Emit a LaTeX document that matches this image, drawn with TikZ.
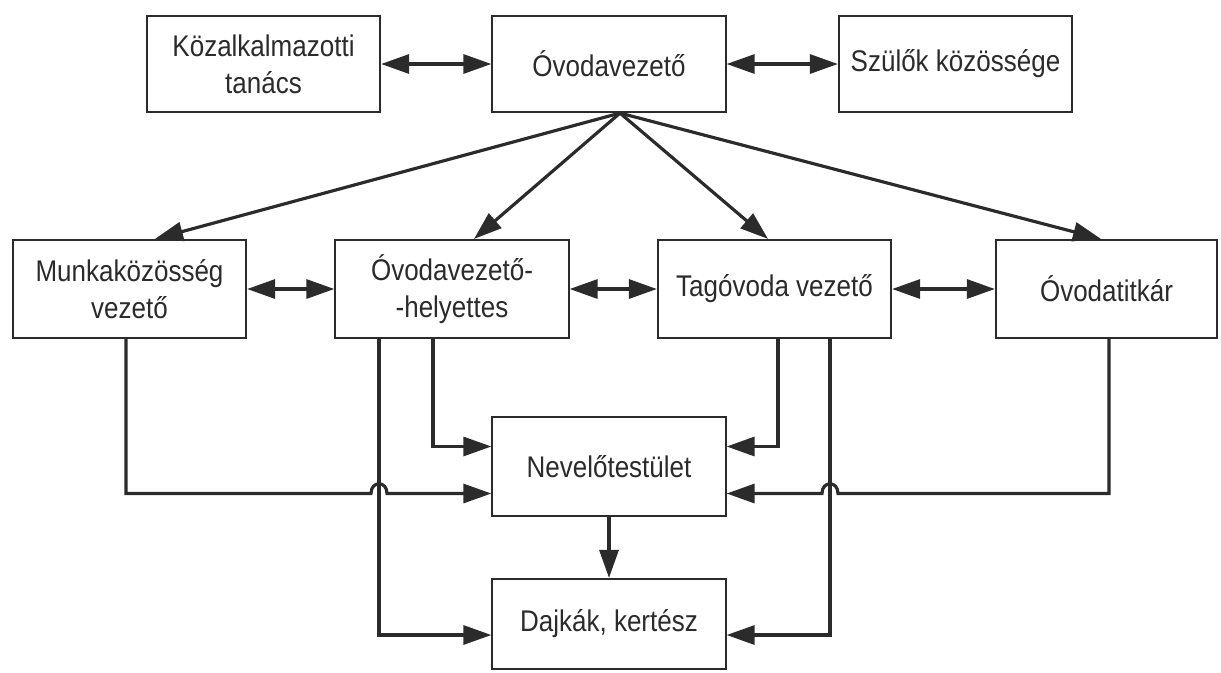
\documentclass[tikz,border=0pt]{standalone}
\usepackage{fontspec}
\setmainfont{Liberation Sans}[FakeStretch=0.87]
\usepackage{tikz}
\usetikzlibrary{arrows.meta}
\usetikzlibrary{calc}

\definecolor{ink}{HTML}{2B2B2B}

\begin{document}
\begin{tikzpicture}[x=0.01cm, y=-0.01cm,
    orgbox/.style={draw=ink, line width=0.6pt, text=ink, align=center, inner sep=1pt, minimum width=2.33cm, minimum height=0.96cm, font=\fontsize{8.5}{10.5}\selectfont},
    link/.style={draw=ink, line width=0.9pt, -{Triangle[length=2.8mm, width=1.9mm]}},
    twoway/.style={link, {Triangle[length=2.8mm, width=1.9mm]}-{Triangle[length=2.8mm, width=1.9mm]}}]

        \useasboundingbox (0,0) rectangle (1221,672);

        \node[orgbox] (kozalk) at (263.5,64) {Közalkalmazotti\\tanács};
        \node[orgbox] (vezeto) at (609,64) {Óvodavezető};
        \node[orgbox] (szulok) at (955.5,64) {Szülők közössége};

        \node[orgbox, minimum height=0.98cm] (munka) at (129.5,289) {Munkaközösség\\vezető};
        \node[orgbox, minimum height=0.98cm] (helyettes) at (452,289) {Óvodavezető-\\-helyettes};
        \node[orgbox, minimum height=0.98cm] (tagovoda) at (774.5,289) {Tagóvoda vezető};
        \node[orgbox, minimum height=0.98cm, minimum width=2.21cm] (titkar) at (1106.5,289) {Óvodatitkár};

        \node[orgbox, minimum height=0.99cm] (nevelo) at (609,466.5) {Nevelőtestület};
        \node[orgbox, minimum height=0.9cm] (dajkak) at (609,624) {Dajkák, kertész};

        \draw[twoway] (kozalk) -- (vezeto);
        \draw[twoway] (vezeto) -- (szulok);
        \draw[twoway] (munka) -- (helyettes);
        \draw[twoway] (helyettes) -- (tagovoda);
        \draw[twoway] (tagovoda) -- (titkar);

        \coordinate (fork) at ([xshift=0.11cm]vezeto.south);
        \draw[link] (fork) -- ([xshift=0.255cm]munka.north);
        \draw[link] (fork) -- ([xshift=0.22cm]helyettes.north);
        \draw[link] (fork) -- ([xshift=-0.065cm]tagovoda.north);
        \draw[link] (fork) -- ([xshift=-0.055cm]titkar.north);

        \coordinate (hopl) at (379,493.5);
        \coordinate (hopr) at (830,493.5);

        \draw[link] ([xshift=-0.035cm]munka.south) |- ($(hopl)+(-8,0)$) .. controls +(0,-13) and +(0,-13) .. ($(hopl)+(8,0)$) -- ([yshift=-0.27cm]nevelo.west);

        \draw[link] ([xshift=-0.19cm]helyettes.south) |- ([yshift=0.2cm]nevelo.west);

        \draw[link] ([xshift=-0.73cm]helyettes.south) |- ([yshift=-0.11cm]dajkak.west);

        \draw[link] ([xshift=0.035cm]tagovoda.south) |- ([yshift=0.2cm]nevelo.east);

        \draw[link] ([xshift=0.555cm]tagovoda.south) |- ([yshift=-0.11cm]dajkak.east);

        \draw[link] ([xshift=0.025cm]titkar.south) |- ($(hopr)+(8,0)$) .. controls +(0,-13) and +(0,-13) .. ($(hopr)+(-8,0)$) -- ([yshift=-0.27cm]nevelo.east);

        \draw[link] (nevelo) -- (dajkak);

\end{tikzpicture}
\end{document}
